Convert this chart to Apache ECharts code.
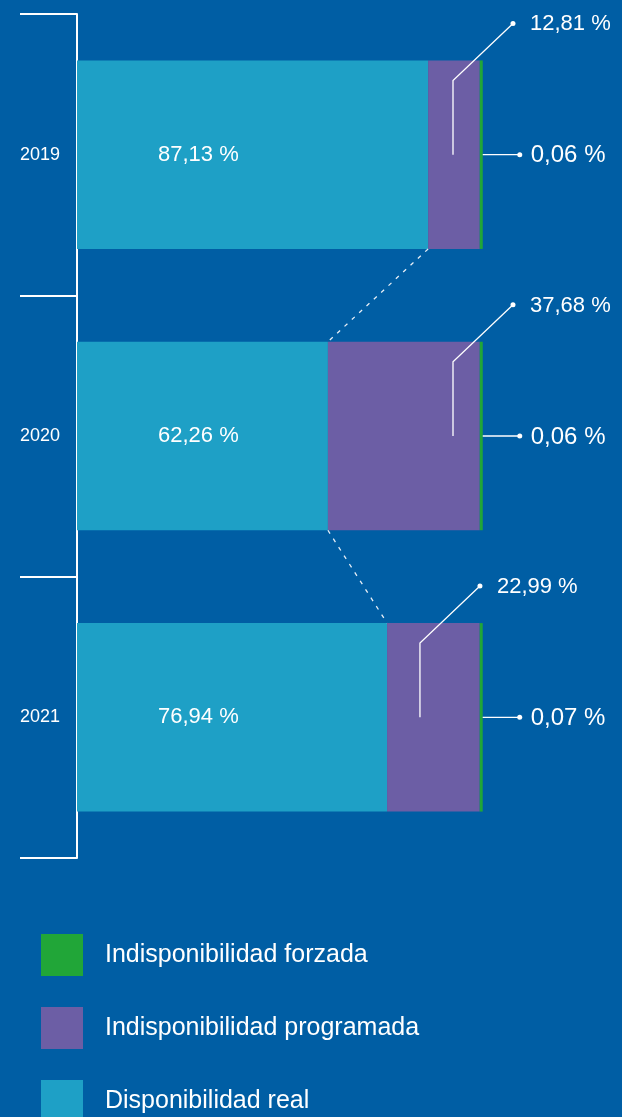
<!DOCTYPE html>
<html>
<head>
<meta charset="utf-8">
<script src="https://cdn.jsdelivr.net/npm/echarts@6/dist/echarts.min.js"></script>
<style>
  html, body { margin: 0; padding: 0; background: #005ea4; }
  #chart { width: 622px; height: 1117px; }
</style>
</head>
<body>
<div id="chart"></div>
<script>
const years = ['2019', '2020', '2021']
const real = [87.13, 62.26, 76.94]
const programada = [12.81, 37.68, 22.99]
const forzada = [0.06, 0.06, 0.07]

// where the leader line of "programada" leaves each bar (value-axis units)
const leaderAt = [93.3, 93.3, 85.1]

const FONT = 'Liberation Sans'
const BAR_W = 0.67

const pct = v => v.toFixed(2).replace('.', ',') + ' %'

const chart = echarts.init(document.getElementById('chart'))

chart.setOption({
  backgroundColor: '#005ea4',
  animation: false,
  textStyle: { fontFamily: FONT },
  grid: { left: 77, right: 142, top: 14, bottom: 259 },
  legend: {
    orient: 'vertical',
    left: 41,
    top: 934,
    height: 220,
    icon: 'rect',
    itemWidth: 42,
    itemHeight: 42,
    itemGap: 31,
    padding: 0,
    selectedMode: false,
    data: ['Indisponibilidad forzada', 'Indisponibilidad programada', 'Disponibilidad real'],
    textStyle: { color: '#fff', fontSize: 25, fontFamily: FONT, padding: [2, 0, 0, 17] }
  },
  xAxis: { type: 'value', min: 0, max: 100, show: false },
  yAxis: {
    type: 'category',
    inverse: true,
    data: years,
    boundaryGap: true,
    axisLine: { show: true, lineStyle: { color: '#fff', width: 2 } },
    axisTick: { show: true, length: 57, lineStyle: { color: '#fff', width: 2 } },
    axisLabel: { color: '#fff', fontSize: 18, margin: 17, fontFamily: FONT, padding: [4, 0, 0, 0] }
  },
  series: [
    {
      name: 'Disponibilidad real',
      type: 'bar',
      stack: 'total',
      barWidth: BAR_W * 100 + '%',
      data: real,
      itemStyle: { color: '#1ea0c6' },
      label: {
        show: true,
        position: [81, '50%'],
        align: 'left',
        verticalAlign: 'middle',
        padding: [5, 0, 0, 0],
        color: '#fff',
        fontSize: 22,
        fontFamily: FONT,
        formatter: p => pct(p.value)
      }
    },
    {
      name: 'Indisponibilidad programada',
      type: 'bar',
      stack: 'total',
      data: programada,
      itemStyle: { color: '#6c5ea5' }
    },
    {
      name: 'Indisponibilidad forzada',
      type: 'bar',
      stack: 'total',
      barMinHeight: 3,
      clip: false,
      data: forzada,
      itemStyle: { color: '#21a638' }
    }
  ]
})

// leader lines, value callouts and dashed connectors
const px = v => chart.convertToPixel({ xAxisIndex: 0 }, v)
const py = c => chart.convertToPixel({ yAxisIndex: 0 }, c)
const band = py(years[1]) - py(years[0])
const barH = band * BAR_W
const white = '#fff'
const g = []
const tops = [], bottoms = []

years.forEach((y, i) => {
  const yc = py(y)
  const top = yc - barH / 2
  tops.push(top)
  bottoms.push(yc + barH / 2)

  const ax = px(leaderAt[i])
  const tipX = ax + 60, tipY = top - 37
  g.push({ type: 'polyline', shape: { points: [[ax, yc], [ax, top + 20], [tipX, tipY]] }, style: { stroke: white, lineWidth: 1.3, fill: null }, z: 10 })
  g.push({ type: 'circle', shape: { cx: tipX, cy: tipY, r: 2.5 }, style: { fill: white }, z: 10 })
  g.push({ type: 'text', x: tipX + 17, y: tipY + 1, style: { text: pct(programada[i]), fill: white, font: '22px ' + FONT, verticalAlign: 'middle', align: 'left' }, z: 10 })

  const purpleEnd = px(real[i] + programada[i])
  const greenEnd = Math.max(px(real[i] + programada[i] + forzada[i]), purpleEnd + 3)
  const dotX = greenEnd + 37
  g.push({ type: 'line', shape: { x1: greenEnd, y1: yc, x2: dotX, y2: yc }, style: { stroke: white, lineWidth: 1.3 }, z: 10 })
  g.push({ type: 'circle', shape: { cx: dotX, cy: yc, r: 2.5 }, style: { fill: white }, z: 10 })
  g.push({ type: 'text', x: dotX + 11, y: yc + 1, style: { text: pct(forzada[i]), fill: white, font: '24px ' + FONT, verticalAlign: 'middle', align: 'left' }, z: 10 })
})

for (let i = 0; i < years.length - 1; i++) {
  g.push({
    type: 'line',
    shape: { x1: px(real[i]), y1: bottoms[i], x2: px(real[i + 1]), y2: tops[i + 1] },
    style: { stroke: '#e6eef6', lineWidth: 1.3, lineDash: [4, 6] },
    z: 10
  })
}

chart.setOption({ graphic: g })
</script>
</body>
</html>
